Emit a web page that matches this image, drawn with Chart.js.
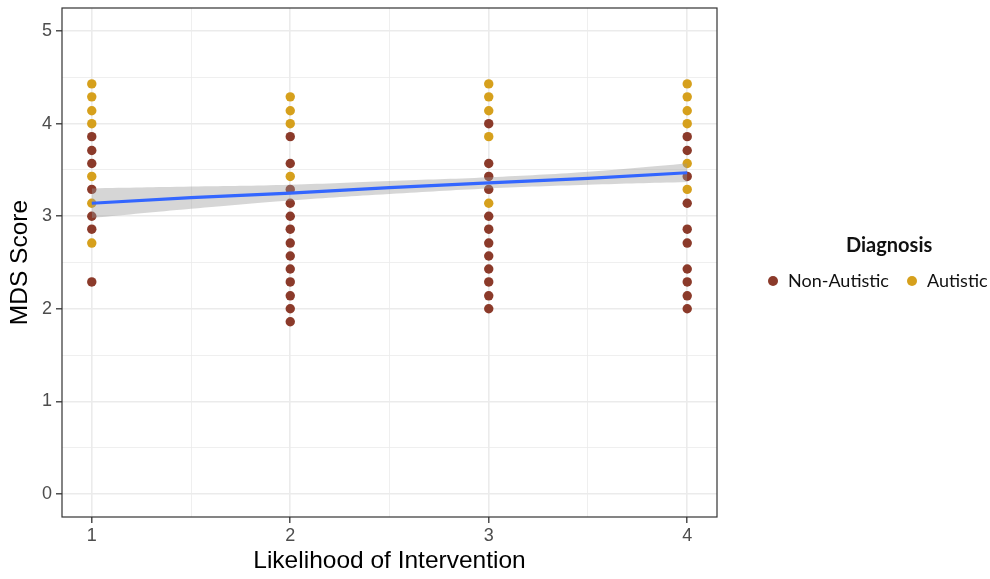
<!DOCTYPE html>
<html>
<head>
<meta charset="utf-8">
<script src="https://cdn.jsdelivr.net/npm/chart.js@4.4.0/dist/chart.umd.min.js"></script>
<style>
  html, body { margin: 0; padding: 0; background: #fff; }
  #wrap { position: relative; width: 990px; height: 579px; }
  #c { position: absolute; left: 0; top: 0; }
  .lg { position: absolute; font-family: Lato, "Open Sans", sans-serif; color: #111; white-space: nowrap; }
  .lg-title { font-weight: 700; font-size: 20px; line-height: 24px; }
  .lg-item { font-size: 18px; line-height: 20px; }
  .dot { position: absolute; width: 10px; height: 10px; border-radius: 50%; }
</style>
</head>
<body>
<div id="wrap">
  <canvas id="c" width="990" height="579"></canvas>
  <div class="lg lg-title" style="left:846px; top:232px;">Diagnosis</div>
  <div class="dot" style="left:768px; top:275.5px; background:#8B3A2A;"></div>
  <div class="lg lg-item" style="left:788px; top:269.5px;">Non-Autistic</div>
  <div class="dot" style="left:907px; top:275.5px; background:#D6A01C;"></div>
  <div class="lg lg-item" style="left:927px; top:269.5px;">Autistic</div>
</div>
<script>
// ---- data ----
const categories = [1, 2, 3, 4];
const nonAutisticScores = [
  [3.86, 3.71, 3.57, 3.29, 3.00, 2.86, 2.29],
  [3.86, 3.57, 3.29, 3.14, 3.00, 2.86, 2.71, 2.57, 2.43, 2.29, 2.14, 2.00, 1.86],
  [4.00, 3.57, 3.43, 3.29, 3.00, 2.86, 2.71, 2.57, 2.43, 2.29, 2.14, 2.00],
  [3.86, 3.71, 3.43, 3.14, 2.86, 2.71, 2.43, 2.29, 2.14, 2.00]
];
const autisticScores = [
  [4.43, 4.29, 4.14, 4.00, 3.43, 3.14, 2.71],
  [4.29, 4.14, 4.00, 3.43],
  [4.43, 4.29, 4.14, 3.86, 3.14],
  [4.43, 4.29, 4.14, 4.00, 3.57, 3.29]
];
const fitX = [1, 1.5, 2, 2.5, 3, 3.5, 4];
const fitY = [3.14, 3.20, 3.25, 3.31, 3.36, 3.41, 3.47];
const fitLower = [2.98, 3.08, 3.17, 3.24, 3.30, 3.34, 3.37];
const fitUpper = [3.30, 3.32, 3.34, 3.38, 3.42, 3.48, 3.57];
const xTickValues = [1, 1.5, 2, 2.5, 3, 3.5, 4];
const yTickValues = [0, 0.5, 1, 1.5, 2, 2.5, 3, 3.5, 4, 4.5, 5];

// ---- build ----
function pts(groups) {
  const out = [];
  groups.forEach((vals, i) => vals.forEach(v => out.push({ x: categories[i], y: v })));
  return out;
}
function xy(xs, ys) { return xs.map((x, i) => ({ x: x, y: ys[i] })); }

const isMajor = v => Math.abs(v - Math.round(v)) < 1e-9;
const FONT = '"Liberation Sans", Arial, sans-serif';

const borderPlugin = {
  id: 'panelBorder',
  afterDatasetsDraw(chart) {
    const a = chart.chartArea, ctx = chart.ctx;
    ctx.save();
    ctx.strokeStyle = '#333333';
    ctx.lineWidth = 1.2;
    ctx.strokeRect(a.left, a.top, a.right - a.left, a.bottom - a.top);
    ctx.restore();
  }
};
function noPad(s) { s.paddingTop = 0; s.paddingBottom = 0; s.paddingLeft = 0; s.paddingRight = 0; }

new Chart(document.getElementById('c'), {
  type: 'line',
  data: {
    datasets: [
      { label: 'fit', data: xy(fitX, fitY), borderColor: '#3366FF', borderWidth: 3.2,
        pointRadius: 0, fill: false, tension: 0, order: 0 },
      { label: 'upper', data: xy(fitX, fitUpper), borderWidth: 0, borderColor: 'rgba(0,0,0,0)',
        pointRadius: 0, fill: '+1', backgroundColor: 'rgba(153,153,153,0.4)', tension: 0.4, order: 1 },
      { label: 'lower', data: xy(fitX, fitLower), borderWidth: 0, borderColor: 'rgba(0,0,0,0)',
        pointRadius: 0, fill: false, tension: 0.4, order: 1 },
      { label: 'Autistic', data: pts(autisticScores), showLine: false, pointRadius: 4.7,
        pointBackgroundColor: '#D6A01C', pointBorderWidth: 0, order: 3 },
      { label: 'Non-Autistic', data: pts(nonAutisticScores), showLine: false, pointRadius: 4.7,
        pointBackgroundColor: '#8B3A2A', pointBorderWidth: 0, order: 2 }
    ]
  },
  options: {
    responsive: false,
    animation: false,
    layout: { padding: { left: 0, top: 8, right: 273, bottom: 0 } },
    plugins: { legend: { display: false }, tooltip: { enabled: false } },
    scales: {
      x: {
        type: 'linear', min: 0.85, max: 4.15,
        afterBuildTicks: s => { s.ticks = xTickValues.map(v => ({ value: v })); },
        afterFit: s => { s.height = 62; noPad(s); },
        border: { display: false },
        grid: {
          color: '#EBEBEB',
          lineWidth: c => isMajor(c.tick.value) ? 1.6 : 0.8,
          tickColor: c => isMajor(c.tick.value) ? '#333333' : 'rgba(0,0,0,0)',
          tickLength: 6, tickWidth: 1.3
        },
        ticks: {
          autoSkip: false, maxRotation: 0, padding: 2,
          color: '#4D4D4D', font: { family: FONT, size: 18 },
          callback: v => isMajor(v) ? String(v) : ''
        },
        title: { display: true, text: 'Likelihood of Intervention', color: '#000',
          font: { family: FONT, size: 24.5 }, padding: { top: 0, bottom: 3 } }
      },
      y: {
        type: 'linear', min: -0.25, max: 5.25,
        afterBuildTicks: s => { s.ticks = yTickValues.map(v => ({ value: v })); },
        afterFit: s => { s.width = 62; noPad(s); },
        border: { display: false },
        grid: {
          color: '#EBEBEB',
          lineWidth: c => isMajor(c.tick.value) ? 1.6 : 0.8,
          tickColor: c => isMajor(c.tick.value) ? '#333333' : 'rgba(0,0,0,0)',
          tickLength: 6, tickWidth: 1.3
        },
        ticks: {
          autoSkip: false, padding: 4,
          color: '#4D4D4D', font: { family: FONT, size: 18 },
          callback: v => isMajor(v) ? String(v) : ''
        },
        title: { display: true, text: 'MDS Score', color: '#000',
          font: { family: FONT, size: 24.5 }, padding: { top: 6, bottom: 0 } }
      }
    }
  },
  plugins: [borderPlugin]
});
</script>
</body>
</html>
